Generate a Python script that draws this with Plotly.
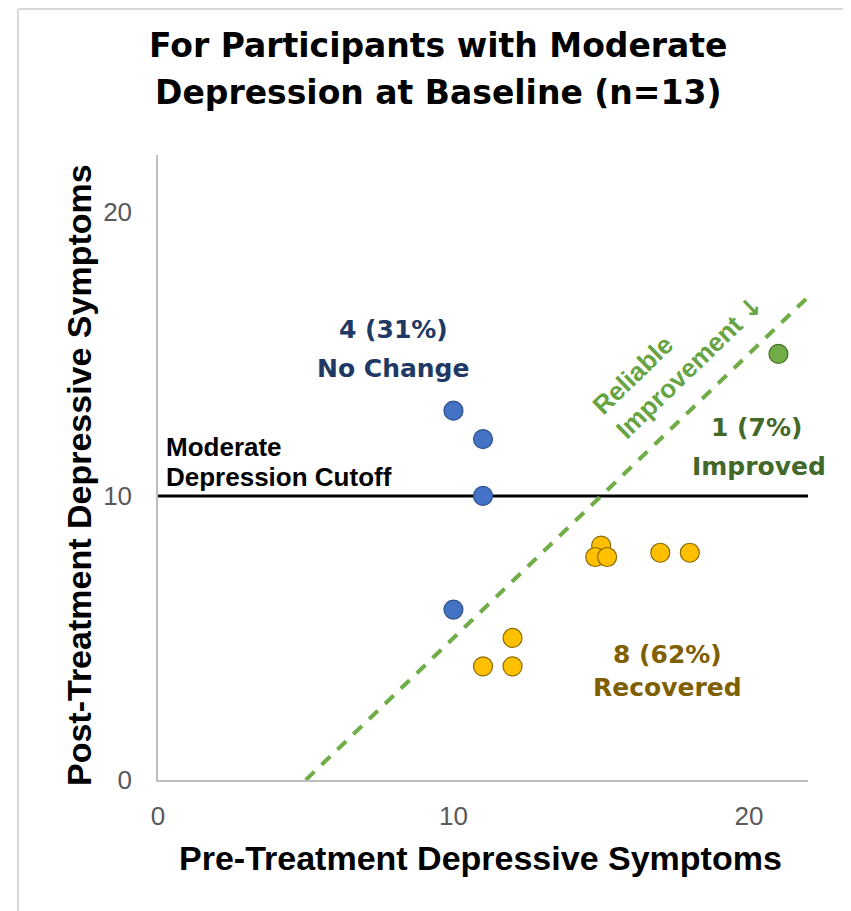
import plotly.graph_objects as go

# ---- data ----
no_change_x = [10, 11, 11, 10]
no_change_y = [13, 12, 10, 6]
recovered_x = [15.0, 14.8, 15.2, 17, 18, 11, 12, 12]
recovered_y = [8.25, 7.85, 7.85, 8, 8, 4, 4, 5]
improved_x = [21]
improved_y = [15]
cutoff_x = [0, 22]
cutoff_y = [10, 10]
reliable_x = [5, 22]
reliable_y = [0, 17]
tick_vals = [0, 10, 20]

OFF = 8  # page body margin
W, H = 851 - OFF, 911 - OFF
L, R, T, B = 158, 808, 155, 780  # plot area in screen pixels

def px(xp):
    return (xp - L) / (R - L)

def py(yp):
    return (B - yp) / (B - T)

fig = go.Figure()
fig.add_trace(go.Scatter(x=cutoff_x, y=cutoff_y, mode="lines",
                         line=dict(color="black", width=3), hoverinfo="skip"))
fig.add_trace(go.Scatter(x=reliable_x, y=reliable_y, mode="lines",
                         line=dict(color="#70AD47", width=4, dash="12px,10px"), hoverinfo="skip"))
fig.add_trace(go.Scatter(x=no_change_x, y=no_change_y, mode="markers",
                         marker=dict(size=19, color="#4472C4", line=dict(color="#2F528F", width=1.2))))
fig.add_trace(go.Scatter(x=recovered_x, y=recovered_y, mode="markers",
                         marker=dict(size=19, color="#FFC000", line=dict(color="#8C6A00", width=1.2))))
fig.add_trace(go.Scatter(x=improved_x, y=improved_y, mode="markers",
                         marker=dict(size=19, color="#70AD47", line=dict(color="#456F2A", width=1.2))))

lab_font = "DejaVu Sans"
ann = []
def label(x, y, text, color, size=25, family=lab_font, xanchor="center", bold=True):
    ann.append(dict(x=x, y=y, xref="x", yref="y", text=f"<b>{text}</b>" if bold else text,
                    showarrow=False, xanchor=xanchor, yanchor="middle",
                    font=dict(family=family, size=size, color=color)))

label(7.97, (B - 330) / 28.4, "4 (31%)", "#203864")
label(7.97, (B - 369) / 28.4, "No Change", "#203864")
label(20.27, (B - 428) / 28.4, "1 (7%)", "#43692A")
label(20.33, (B - 467) / 28.4, "Improved", "#43692A")
label(17.25, (B - 655) / 28.4, "8 (62%)", "#7F6000")
label(17.25, (B - 688) / 28.4, "Recovered", "#7F6000")
label(0.2, (B - 447) / 28.4, "Moderate", "black", size=26, family="Liberation Sans, Arial", xanchor="left")
label(0.2, (B - 477) / 28.4, "Depression Cutoff", "black", size=26, family="Liberation Sans, Arial", xanchor="left")

ann.append(dict(x=17.6, y=14.95, xref="x", yref="y",
                text="<b>Reliable<br>Improvement <span style=\"font-family:'DejaVu Sans'\">↓</span></b>",
                showarrow=False, align="left", textangle=-44,
                font=dict(family="Liberation Sans, Arial", size=26, color="#66A342")))

# title
ann.append(dict(x=px(438), y=py(45), xref="paper", yref="paper", text="<b>For Participants with Moderate</b>",
                showarrow=False, xanchor="center", yanchor="middle",
                font=dict(family="DejaVu Sans", size=33, color="black")))
ann.append(dict(x=px(438), y=py(92), xref="paper", yref="paper", text="<b>Depression at Baseline (n=13)</b>",
                showarrow=False, xanchor="center", yanchor="middle",
                font=dict(family="DejaVu Sans", size=33, color="black")))
# axis titles
ann.append(dict(x=px(480), y=py(858), xref="paper", yref="paper", text="<b>Pre-Treatment Depressive Symptoms</b>",
                showarrow=False, xanchor="center", yanchor="middle",
                font=dict(family="Liberation Sans, Arial", size=34, color="black")))
ann.append(dict(x=px(79), y=py(475), xref="paper", yref="paper", text="<b>Post-Treatment Depressive Symptoms</b>",
                showarrow=False, xanchor="center", yanchor="middle", textangle=-90,
                font=dict(family="Liberation Sans, Arial", size=34, color="black")))

shapes = [
    dict(type="line", xref="paper", yref="paper", x0=px(18), x1=px(870), y0=py(9), y1=py(9),
         line=dict(color="#D9D9D9", width=2)),
    dict(type="line", xref="paper", yref="paper", x0=px(18), x1=px(18), y0=py(9), y1=py(930),
         line=dict(color="#D9D9D9", width=2)),
]

fig.update_layout(
    width=W, height=H,
    margin=dict(l=L - OFF, r=W - (R - OFF), t=T - OFF, b=H - (B - OFF), autoexpand=False),
    paper_bgcolor="white", plot_bgcolor="white",
    showlegend=False,
    annotations=ann, shapes=shapes,
    xaxis=dict(range=[0, 22], tickvals=tick_vals, showgrid=False, zeroline=False,
               showline=True, linecolor="#BFBFBF", linewidth=1.5, ticks="",
               ticklabelstandoff=12,
               tickfont=dict(family="Liberation Sans, Arial", size=26, color="#595959")),
    yaxis=dict(range=[0, 22], tickvals=tick_vals, showgrid=False, zeroline=False,
               showline=True, linecolor="#BFBFBF", linewidth=1.5, ticks="",
               ticklabelstandoff=19,
               tickfont=dict(family="Liberation Sans, Arial", size=26, color="#595959")),
)
fig.write_html("out.html")
